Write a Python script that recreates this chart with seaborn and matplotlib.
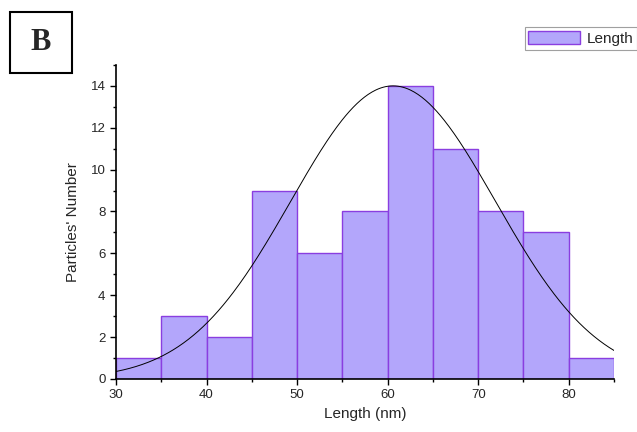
import numpy as np
import matplotlib
matplotlib.use("Agg")
import matplotlib.pyplot as plt
import seaborn as sns
from matplotlib.ticker import MultipleLocator
from matplotlib.patches import Rectangle

# Data
bin_edges = [30, 35, 40, 45, 50, 55, 60, 65, 70, 75, 80, 85]
counts = [1, 3, 2, 9, 6, 8, 14, 11, 8, 7, 1]
# Gaussian fit parameters
fit_mean = 60.6
fit_sigma = 11.3
fit_amp = 14.0

x_ticks = [30, 40, 50, 60, 70, 80]
y_ticks = [0, 2, 4, 6, 8, 10, 12, 14]

sns.set_style("ticks")
plt.rcParams['font.family'] = ['Liberation Sans', 'DejaVu Sans']

fig = plt.figure(figsize=(6.37, 4.32), dpi=100)
ax = fig.add_axes([0.182, 0.1227, 0.782, 0.727])

centers = [(a + b) / 2 for a, b in zip(bin_edges[:-1], bin_edges[1:])]
sns.histplot(x=centers, weights=counts, bins=bin_edges, ax=ax,
             color="#b3a6fb", alpha=1.0, edgecolor="#8a3ee0", linewidth=1.0,
             label="Length")

xs = np.linspace(bin_edges[0], bin_edges[-1], 400)
ys = fit_amp * np.exp(-(xs - fit_mean) ** 2 / (2 * fit_sigma ** 2))
sns.lineplot(x=xs, y=ys, ax=ax, color="black", linewidth=0.7, label="_nolegend_")

ax.set_xlim(30, 85)
ax.set_ylim(0, 15)
ax.set_xticks(x_ticks)
ax.set_yticks(y_ticks)
ax.xaxis.set_minor_locator(MultipleLocator(5))
ax.yaxis.set_minor_locator(MultipleLocator(1))
ax.tick_params(axis='both', which='major', direction='out', length=4, width=1, labelsize=9.5, color='black')
ax.tick_params(axis='both', which='minor', direction='out', length=2.5, width=1, color='black')
ax.set_xlabel("Length (nm)", fontsize=11)
ax.set_ylabel("Particles' Number", fontsize=11, labelpad=8)
sns.despine(ax=ax)
for s in ['left', 'bottom']:
    ax.spines[s].set_linewidth(1.2)
    ax.spines[s].set_color('black')

handles, labels = ax.get_legend_handles_labels()
ax.get_legend().remove() if ax.get_legend() else None
leg = fig.legend(handles, labels, loc='upper right', bbox_to_anchor=(1.0, 1 - 27 / 432),
                 bbox_transform=fig.transFigure, fontsize=11,
                 frameon=True, fancybox=False, handlelength=3.4, handleheight=1.0,
                 borderpad=0.25, handletextpad=0.4, borderaxespad=0.0)
leg.get_frame().set_edgecolor('#888888')
leg.get_frame().set_linewidth(0.8)

# "B" panel label in a box
fig.patches.append(Rectangle((10 / 637, 1 - 73 / 432), 62 / 637, 61 / 432,
                             transform=fig.transFigure, fill=False,
                             edgecolor='black', linewidth=1.5))
fig.text(41 / 637, 1 - 42 / 432, "B", fontsize=22, fontweight='bold',
         family=['Liberation Serif', 'DejaVu Serif'], ha='center', va='center')

fig.savefig("out.png", dpi=100, facecolor='white')
